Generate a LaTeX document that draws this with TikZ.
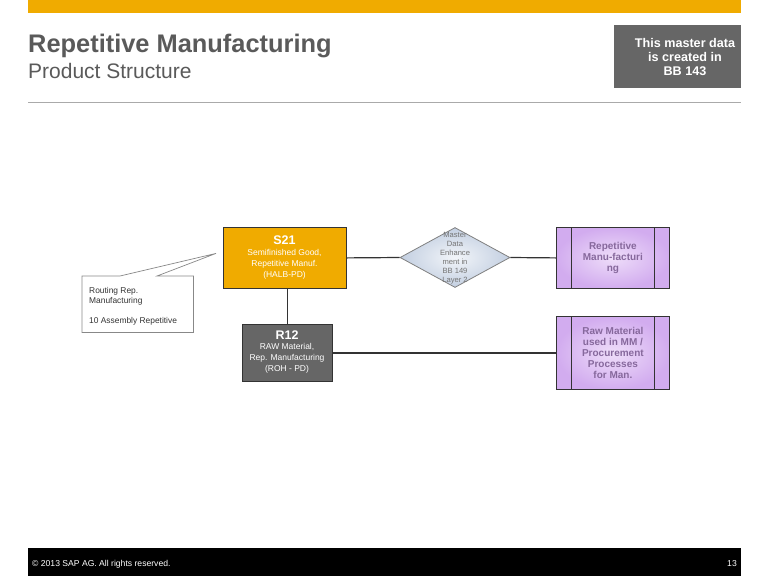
\documentclass[tikz,border=0pt]{standalone}
\usepackage{fontspec}
\setmainfont{Liberation Sans}
\usetikzlibrary{shapes.geometric}
\makeatletter
\providecommand\tikzscope@linewidth{0.4pt}
\makeatother
\definecolor{sapgold}{HTML}{F0AB00}
\definecolor{titlegray}{HTML}{5A5A5A}
\definecolor{boxgray}{HTML}{666666}
\definecolor{rulegray}{HTML}{AAAAAA}
\definecolor{edgedark}{HTML}{333333}
\definecolor{purpletext}{HTML}{86689C}
\definecolor{purpleout}{HTML}{D2ACEF}
\definecolor{purplein}{HTML}{EEDDF9}
\definecolor{diaout}{HTML}{C3CFE1}
\definecolor{diain}{HTML}{F2F5F9}
\definecolor{diatext}{HTML}{747474}
\begin{document}
\begin{tikzpicture}[x=1pt,y=-1pt,
  matbox/.style={draw=edgedark, line width=0.8pt, anchor=north west},
  boxtitle/.style={text=white, inner sep=0, font=\fontsize{12.5}{13}\selectfont\bfseries},
  boxbody/.style={text=white, inner sep=0, align=center, font=\fontsize{8.5}{11}\selectfont},
  procbox/.style={draw=edgedark, line width=0.8pt, anchor=north west, align=center, text=purpletext,
     inner color=purplein, outer color=purpleout, inner sep=1pt,
     minimum width=113pt, font=\fontsize{10}{10.8}\selectfont\bfseries},
  link/.style={draw=edgedark, line width=1.2pt},
]
\useasboundingbox (0,0) rectangle (768,576);
\fill[white] (0,0) rectangle (768,576);
% header
\fill[sapgold] (28,0) rectangle (741,13);
\node[anchor=base west, inner sep=0, text=titlegray, font=\fontsize{25.4}{28}\selectfont\bfseries] (title) at (28,52) {Repetitive Manufacturing};
\node[anchor=base west, inner sep=0, text=titlegray, font=\fontsize{21}{24}\selectfont] (subtitle) at (28,78) {Product Structure};
\fill[rulegray] (28,101.5) rectangle (741,103);
\node[fill=boxgray, anchor=north west, minimum width=127pt, minimum height=63pt, inner sep=0pt] (note) at (614,25) {};
\node[align=center, inner sep=0, text=white, font=\fontsize{12.6}{14}\selectfont\bfseries] (notetxt) at (685,57) {This master data\\is created in\\BB 143};
% footer
\fill[black] (28,548) rectangle (741,576);
\node[anchor=base west, inner sep=0, text=white, font=\fontsize{8.6}{9}\selectfont] (copy) at (32,566) {© 2013 SAP AG. All rights reserved.};
\node[anchor=base east, inner sep=0, text=white, font=\fontsize{8.6}{9}\selectfont] (page) at (737,566) {13};
% material nodes
\node[matbox, fill=sapgold, minimum width=123pt, minimum height=61pt] (s21) at (223,227) {};
\node[boxtitle] (s21t) at (284.5,240) {S21};
\node[boxbody, anchor=north] (s21b) at (284.5,249) {Semifinished Good,\\Repetitive Manuf.\\(HALB-PD)};
\node[matbox, fill=boxgray, minimum width=90pt, minimum height=57pt] (r12) at (242,324) {};
\node[boxtitle] (r12t) at (287,335) {R12};
\node[boxbody, anchor=north] (r12b) at (287,343) {RAW Material,\\Rep. Manufacturing\\(ROH - PD)};
% decision
\node[diamond, draw=gray, line width=0.8pt, inner color=diain, outer color=diaout,
  minimum width=110pt, minimum height=60pt, inner sep=0pt] (dia) at (455,257.5) {};
\node[align=center, text=diatext, inner sep=0, font=\fontsize{7.6}{9}\selectfont] (diatxt) at ([yshift=-1pt]dia.center)
  {Master\\Data\\Enhance\\ment in\\BB 149\\Layer 2};
% processes
\node[procbox, minimum height=61pt] (rep) at (556,227) {Repetitive\\Manu-facturi\\ng};
\node[procbox, minimum height=73pt] (raw) at (556,316) {Raw Material\\used in MM /\\Procurement\\Processes\\for Man.};
\foreach \n in {rep,raw}{
  \draw[edgedark, line width=0.8pt] ([xshift=15pt]\n.north west) -- ([xshift=15pt]\n.south west);
  \draw[edgedark, line width=0.8pt] ([xshift=-15pt]\n.north east) -- ([xshift=-15pt]\n.south east);
}
% connectors
\draw[link] (s21.east) -- (dia.west);
\draw[link] (dia.east) -- (rep.west);
\draw[link] (s21.south -| r12.north) -- (r12.north);
\draw[link] (r12.east) -- (r12.east -| raw.west);
% callout
\node[anchor=north west, minimum width=111pt, minimum height=56pt, inner sep=0] (callout) at (82,276) {};
\node[anchor=north west, align=left, inner sep=0, text=edgedark, font=\fontsize{8.4}{10}\selectfont] (calltxt) at (89,287)
  {Routing Rep.\\Manufacturing\\ \\10 Assembly Repetitive};
\coordinate (tip) at ([xshift=-7pt,yshift=4.5pt]s21.west);
\draw[draw=rulegray!80!black, line width=0.7pt] (callout.north west) -- ([xshift=38pt]callout.north west) -- (tip)
  -- ([xshift=75pt]callout.north west) -- (callout.north east) -- (callout.south east) -- (callout.south west) -- cycle;
\end{tikzpicture}
\end{document}
